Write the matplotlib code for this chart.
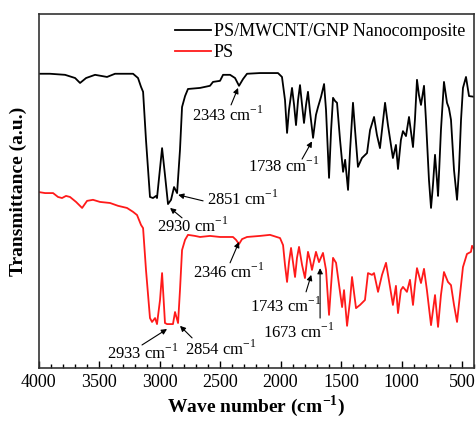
import numpy as np
import matplotlib
matplotlib.use("Agg")
import matplotlib.pyplot as plt
from matplotlib.ticker import MultipleLocator

plt.rcParams['font.family'] = ['Liberation Serif', 'DejaVu Serif']
plt.rcParams['mathtext.fontset'] = 'custom'
plt.rcParams['mathtext.rm'] = 'Liberation Serif'
plt.rcParams['mathtext.bf'] = 'Liberation Serif:bold'

# PS/MWCNT/GNP nanocomposite spectrum (wave number, transmittance a.u.)
wn_comp = [4000, 3905, 3781, 3698, 3657, 3607, 3533, 3434, 3368, 3219, 3178, 3153,
           3136, 3112, 3079, 3054, 3029, 3021, 2979, 2955, 2930, 2905, 2880, 2855,
           2831, 2814, 2789, 2765, 2665, 2583, 2558, 2500, 2475, 2417, 2376, 2343,
           2310, 2277, 2170, 2021, 1988, 1963, 1946, 1930, 1905, 1888, 1872, 1855,
           1839, 1822, 1806, 1789, 1773, 1756, 1731, 1707, 1690, 1665, 1640, 1624,
           1599, 1582, 1566, 1549, 1533, 1508, 1483, 1466, 1442, 1425, 1401, 1384,
           1360, 1327, 1285, 1260, 1227, 1203, 1178, 1136, 1112, 1071, 1046, 1029,
           1005, 988, 963, 938, 905, 889, 872, 856, 839, 814, 798, 773, 756, 740,
           723, 707, 698, 674, 649, 624, 608, 591, 566, 541, 525, 508, 492, 467,
           442, 401]
t_comp = [83.1, 83.1, 82.8, 81.9, 80.5, 81.9, 82.8, 82.2, 83.1, 83.1, 81.9, 79.4,
          78.0, 64.4, 48.3, 48.0, 48.6, 48.0, 62.1, 54.5, 46.3, 47.5, 51.1, 49.4,
          61.6, 73.7, 76.8, 78.8, 79.1, 79.7, 80.8, 81.1, 82.8, 82.8, 81.9, 79.7,
          81.6, 83.1, 83.3, 83.3, 82.2, 75.7, 66.4, 72.9, 79.1, 74.3, 68.6, 75.7,
          79.9, 74.3, 69.2, 74.3, 78.0, 72.3, 65.0, 71.5, 73.7, 76.6, 80.2, 72.9,
          53.7, 67.2, 76.3, 75.4, 74.9, 64.4, 55.4, 58.8, 50.3, 61.6, 74.9, 67.2,
          56.8, 59.3, 60.7, 67.2, 70.9, 65.8, 62.1, 74.9, 68.6, 59.3, 63.0, 56.2,
          64.4, 66.9, 65.5, 70.9, 62.4, 70.1, 81.4, 77.1, 74.3, 79.7, 70.1, 53.1,
          45.2, 51.7, 60.2, 53.1, 48.6, 67.2, 80.8, 74.9, 73.4, 70.1, 55.9, 47.5,
          55.9, 70.1, 79.1, 82.2, 76.8, 76.6]

# PS spectrum
wn_ps = [4000, 3946, 3880, 3839, 3806, 3773, 3740, 3690, 3640, 3599, 3550, 3492,
         3409, 3343, 3269, 3219, 3186, 3153, 3136, 3112, 3079, 3062, 3037, 3021,
         2996, 2979, 2955, 2938, 2889, 2872, 2847, 2831, 2814, 2789, 2765, 2707,
         2665, 2583, 2500, 2393, 2368, 2343, 2318, 2277, 2170, 2087, 2004, 1979,
         1963, 1946, 1930, 1913, 1897, 1880, 1864, 1847, 1822, 1798, 1773, 1756,
         1740, 1707, 1682, 1649, 1624, 1599, 1582, 1566, 1541, 1516, 1491, 1475,
         1450, 1425, 1409, 1376, 1343, 1302, 1277, 1244, 1227, 1194, 1161, 1128,
         1095, 1071, 1046, 1029, 1005, 988, 955, 930, 905, 889, 872, 839, 814,
         790, 756, 723, 698, 674, 649, 616, 591, 566, 541, 517, 492, 459, 426,
         417, 400]
t_ps = [49.7, 49.4, 49.4, 48.3, 48.0, 48.6, 48.3, 46.9, 45.2, 47.2, 47.5, 46.9,
        46.6, 45.8, 45.2, 44.1, 43.2, 40.4, 39.5, 27.7, 14.1, 13.0, 14.1, 12.4,
        19.2, 26.8, 12.7, 12.4, 12.4, 15.8, 12.7, 22.0, 33.3, 36.2, 37.6, 37.3,
        37.0, 37.3, 37.0, 37.0, 36.2, 35.0, 36.4, 37.0, 37.3, 37.6, 36.7, 34.7,
        29.1, 24.3, 29.9, 33.9, 29.9, 25.7, 31.1, 34.2, 29.1, 25.4, 32.8, 30.5,
        27.7, 32.8, 29.9, 32.5, 27.7, 15.0, 23.4, 31.1, 29.7, 23.4, 17.2, 22.0,
        11.9, 19.2, 25.7, 16.9, 17.8, 19.2, 26.8, 26.3, 26.8, 21.5, 26.3, 29.7,
        22.9, 17.8, 23.2, 15.5, 22.0, 22.9, 21.5, 24.9, 17.8, 23.4, 28.2, 24.0,
        28.0, 22.0, 12.1, 20.6, 11.6, 20.6, 27.1, 24.3, 23.4, 17.8, 13.0, 20.6,
        28.5, 32.2, 32.8, 34.5, 33.6]

# annotations: label, text position, arrow tail, arrow head
labels = ["2343", "1738", "2851", "2930", "2346", "2933", "2854", "1743", "1673"]
text_pos = [(2731, 69.8), (2268, 55.4), (2607, 46.0), (3021, 38.4), (2723, 25.4),
            (3434, 2.5), (2789, 3.7), (2252, 15.8), (2144, 8.5)]
arrow_tail = [(2409, 74.3), (1822, 59.0), (2640, 47.2), (2814, 42.4), (2417, 29.7),
              (3145, 6.5), (2731, 8.5), (1789, 21.5), (1673, 14.1)]
arrow_head = [(2351, 79.1), (1740, 64.0), (2846, 48.9), (2913, 45.2), (2343, 35.6),
              (2938, 11.0), (2831, 11.9), (1746, 26.3), (1673, 28.2)]

fig = plt.figure(figsize=(4.76, 4.22), dpi=100)
ax = fig.add_axes([0.081, 0.128, 0.915, 0.839])

ax.plot(wn_comp, t_comp, color='black', lw=1.3, solid_joinstyle='round',
        label='PS/MWCNT/GNP Nanocomposite')
ax.plot(wn_ps, t_ps, color='#ff1a1a', lw=1.3, solid_joinstyle='round', label='PS')

for lab, tp, tail, head in zip(labels, text_pos, arrow_tail, arrow_head):
    ax.text(tp[0], tp[1], lab + r' cm$^{-1}$', fontsize=12, ha='left', va='baseline')
    ax.annotate('', xy=head, xytext=tail,
                arrowprops=dict(arrowstyle='-|>', color='black', lw=0.8,
                                mutation_scale=8, shrinkA=0, shrinkB=0))

ax.set_xlim(4000, 400)
ax.set_ylim(0, 100)
ax.set_xticks([4000, 3500, 3000, 2500, 2000, 1500, 1000, 500])
ax.xaxis.set_minor_locator(MultipleLocator(100))
ax.tick_params(axis='x', which='major', direction='in', length=5, width=1,
               labelsize=13, pad=4)
ax.tick_params(axis='x', which='minor', direction='in', length=3, width=1)
ax.set_yticks([])
for s in ax.spines.values():
    s.set_linewidth(1.2)
    s.set_color('#333333')

ax.set_xlabel(r'Wave number (cm$^{\mathbf{-1}}$)', fontsize=14, fontweight='bold', labelpad=2)
ax.set_ylabel('Transmittance (a.u.)', fontsize=14, fontweight='bold', labelpad=8)

ax.legend(loc='upper right', frameon=False, fontsize=13, handlelength=2.0,
          handletextpad=0.15, borderaxespad=0.1, labelspacing=0.25)

fig.savefig('out.png', dpi=100)
